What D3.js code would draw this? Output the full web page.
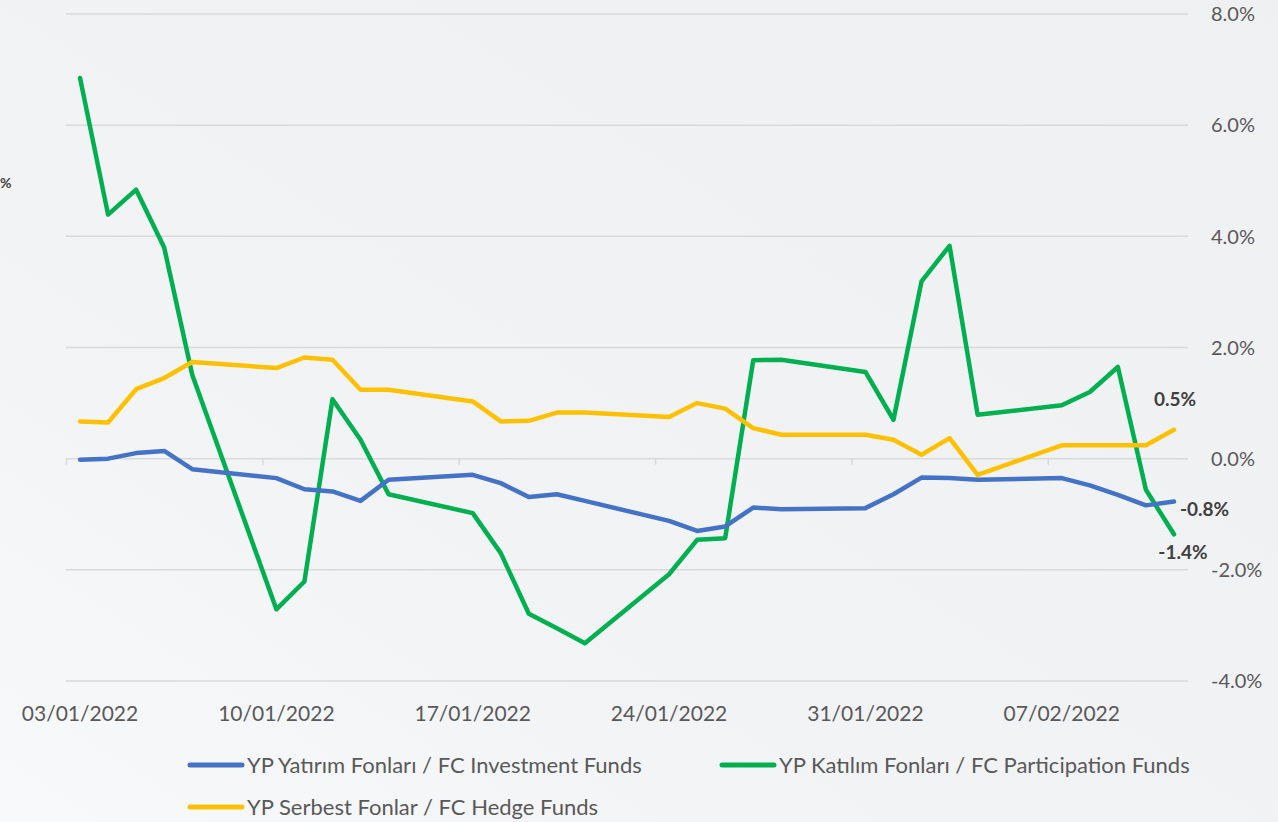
<!DOCTYPE html>
<html>
<head>
<meta charset="utf-8">
<script src="https://cdn.jsdelivr.net/npm/d3@7"></script>
<style>
  body { margin: 0; background: #f2f3f5; }
  svg { display: block; }
  text { font-family: Lato, "Noto Sans", sans-serif; }
</style>
</head>
<body>
<div id="chart"></div>
<script>
var dates = ["03/01/2022","04/01/2022","05/01/2022","06/01/2022","07/01/2022",
             "10/01/2022","11/01/2022","12/01/2022","13/01/2022","14/01/2022",
             "17/01/2022","18/01/2022","19/01/2022","20/01/2022","21/01/2022",
             "24/01/2022","25/01/2022","26/01/2022","27/01/2022","28/01/2022",
             "31/01/2022","01/02/2022","02/02/2022","03/02/2022","04/02/2022",
             "07/02/2022","08/02/2022","09/02/2022","10/02/2022","11/02/2022"];

var investment = [-0.02, 0.00, 0.10, 0.14, -0.19, -0.35, -0.55, -0.59, -0.76, -0.38,
                  -0.29, -0.44, -0.69, -0.64, -0.76, -1.12, -1.30, -1.22, -0.88, -0.91,
                  -0.89, -0.64, -0.34, -0.35, -0.38, -0.35, -0.48, -0.65, -0.84, -0.77];
var participation = [6.85, 4.39, 4.84, 3.80, 1.51, -2.71, -2.21, 1.07, 0.34, -0.64,
                     -0.98, -1.70, -2.79, -3.05, -3.32, -2.08, -1.46, -1.43, 1.77, 1.78,
                     1.56, 0.70, 3.19, 3.83, 0.79, 0.96, 1.20, 1.65, -0.56, -1.36];
var hedge = [0.67, 0.65, 1.25, 1.45, 1.74, 1.63, 1.82, 1.78, 1.24, 1.24,
             1.03, 0.67, 0.68, 0.83, 0.83, 0.75, 1.00, 0.90, 0.55, 0.43,
             0.43, 0.34, 0.07, 0.37, -0.29, 0.24, 0.24, 0.24, 0.24, 0.52];

var seriesNames = ["YP Yatırım Fonları / FC Investment Funds",
                   "YP Katılım Fonları / FC Participation Funds",
                   "YP Serbest Fonlar / FC Hedge Funds"];
var seriesColors = ["#4472C4", "#00B050", "#FFC000"];
var yTicks = [-4, -2, 0, 2, 4, 6, 8];

function init() {
    var w = 1278, h = 822;
    var parse = d3.timeParse("%d/%m/%Y");
    var days = dates.map(parse);
    var half = 12 * 3600 * 1000;
    // plain hyphen instead of d3's unicode minus
    var pct = function(v){ return d3.format(".1f")(v).replace("\u2212", "-") + "%"; };

    var svg = d3.select("#chart").append("svg")
        .attr("width", w).attr("height", h);

    // soft background
    var grad = svg.append("defs").append("linearGradient")
        .attr("id", "bg").attr("x1", "0").attr("x2", "1").attr("y1", "1").attr("y2", "0");
    grad.append("stop").attr("offset", "0").attr("stop-color", "#f8f9fa");
    grad.append("stop").attr("offset", "0.35").attr("stop-color", "#f2f3f5");
    grad.append("stop").attr("offset", "1").attr("stop-color", "#eff0f2");
    svg.append("rect").attr("width", w).attr("height", h).attr("fill", "url(#bg)");

    var x = d3.scaleTime()
        .domain([days[0], d3.timeDay.offset(days[days.length - 1], 1)])
        .range([66, 1188]);
    var y = d3.scaleLinear().domain([-4, 8]).range([681, 14]);

    // gridlines
    svg.append("g").selectAll("line").data(yTicks).enter().append("line")
        .attr("x1", 66).attr("x2", 1188)
        .attr("y1", function(d){ return y(d); })
        .attr("y2", function(d){ return y(d); })
        .attr("stroke", "#d9d9d9").attr("stroke-width", 1.5);

    // right axis labels
    svg.append("g").selectAll("text").data(yTicks).enter().append("text")
        .attr("x", 1211).attr("y", function(d){ return y(d); })
        .attr("dy", "0.36em")
        .attr("font-size", "20px").attr("fill", "#595959")
        .text(pct);

    // x axis ticks on zero line
    var mondays = d3.timeMonday.range(days[0], d3.timeDay.offset(days[days.length - 1], 1));
    var xAxis = d3.axisBottom(x).tickValues(mondays).tickSize(6).tickFormat("");
    var gx = svg.append("g").attr("transform", "translate(0," + y(0) + ")").call(xAxis);
    gx.select(".domain").remove();
    gx.selectAll(".tick line").attr("stroke", "#d9d9d9").attr("stroke-width", 1.5);

    svg.append("g").selectAll("text").data(mondays).enter().append("text")
        .attr("x", function(d){ return x(+d + half); })
        .attr("y", 721)
        .attr("text-anchor", "middle")
        .attr("font-size", "21px").attr("fill", "#595959")
        .text(d3.timeFormat("%d/%m/%Y"));

    // lines
    var allSeries = [investment, participation, hedge];
    var line = d3.line()
        .x(function(d, i){ return x(+days[i] + half); })
        .y(function(d){ return y(d); });

    var drawOrder = [1, 2, 0];
    drawOrder.forEach(function(k) {
        svg.append("path").datum(allSeries[k])
            .attr("d", line)
            .attr("fill", "none")
            .attr("stroke", seriesColors[k])
            .attr("stroke-width", 4.5)
            .attr("stroke-linejoin", "round")
            .attr("stroke-linecap", "round");
    });

    // end labels
    var last = days.length - 1;
    var lx = x(+days[last] + half);
    var endLabels = [
        { v: investment[last], dx: 6, dy: 8, anchor: "start" },
        { v: participation[last], dx: 9, dy: 18, anchor: "middle" },
        { v: hedge[last], dx: 1, dy: -31, anchor: "middle" }
    ];
    svg.append("g").selectAll("text").data(endLabels).enter().append("text")
        .attr("x", function(d){ return lx + d.dx; })
        .attr("y", function(d){ return y(d.v) + d.dy; })
        .attr("dy", "0.36em")
        .attr("text-anchor", function(d){ return d.anchor; })
        .attr("font-size", "19px").attr("font-weight", "bold").attr("fill", "#404040")
        .text(function(d){ return pct(d.v); });

    // partial label at the left edge
    svg.append("text").attr("x", 0).attr("y", 183).attr("dy", "0.36em")
        .attr("font-size", "14px").attr("font-weight", "bold").attr("fill", "#404040")
        .text("%");

    // legend
    var legendPos = [[188, 765], [720, 765], [188, 807]];
    var lg = svg.append("g").selectAll("g").data(seriesNames).enter().append("g")
        .attr("transform", function(d, i){ return "translate(" + legendPos[i][0] + "," + legendPos[i][1] + ")"; });
    lg.append("line").attr("x1", 2).attr("x2", 54)
        .attr("stroke", function(d, i){ return seriesColors[i]; })
        .attr("stroke-width", 5).attr("stroke-linecap", "round");
    lg.append("text").attr("x", 59).attr("dy", "0.36em")
        .attr("font-size", "22px").attr("fill", "#595959")
        .text(function(d){ return d; });
}
window.onload = init;
</script>
</body>
</html>
